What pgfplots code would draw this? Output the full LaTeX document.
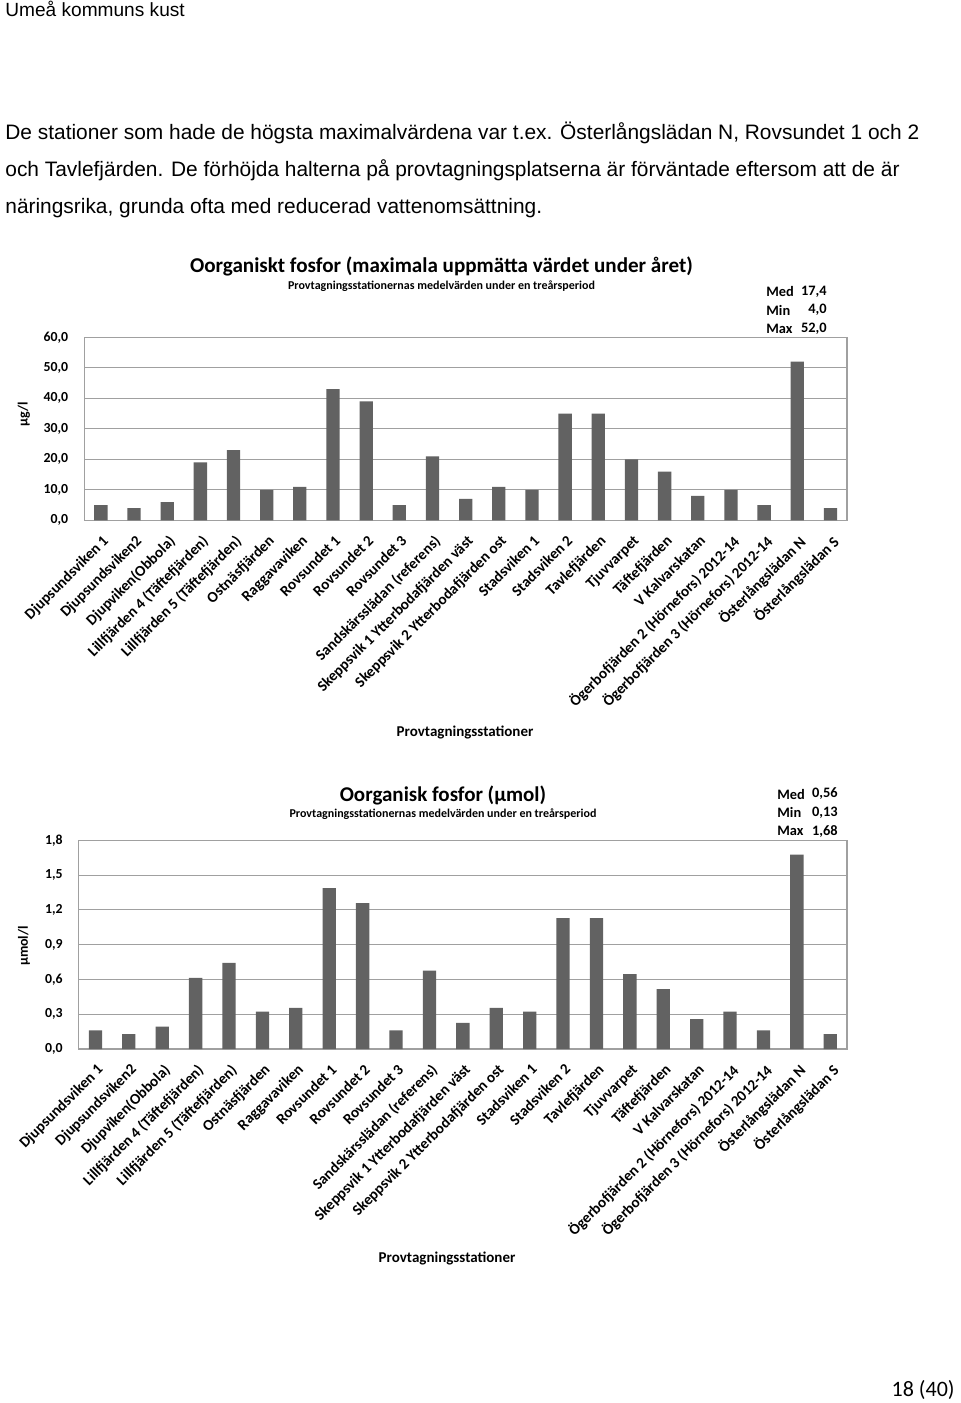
\documentclass[border=0pt]{standalone}
\usepackage{fontspec}
\setmainfont{Carlito}
\newfontfamily\narrowfont{Liberation Sans}
\usepackage{pgfplots}
\pgfplotsset{compat=1.18}
\definecolor{barc}{HTML}{626262}
\definecolor{gridc}{HTML}{A0A0A0}
\pgfplotsset{stations/.style={
  scale only axis, anchor=south west,
  xmin=-0.5, xmax=22.5, ymin=0,
  xtick={0,...,22},
  xticklabels={{Djupsundsviken 1},{Djupsundsviken2},{Djupviken(Obbola)},{Lillfjärden 4 (Täftefjärden)},{Lillfjärden 5 (Täftefjärden)},{Ostnäsfjärden},{Raggavaviken},{Rovsundet 1},{Rovsundet 2},{Rovsundet 3},{Sandskärsslädan (referens)},{Skeppsvik 1 Ytterbodafjärden väst},{Skeppsvik 2 Ytterbodafjärden ost},{Stadsviken 1},{Stadsviken 2},{Tavlefjärden},{Tjuvvarpet},{Täftefjärden},{V Kalvarskatan},{Ögerbofjärden 2 (Hörnefors) 2012-14},{Ögerbofjärden 3 (Hörnefors) 2012-14},{Österlångslädan N},{Österlångslädan S}},
  ybar, bar width=6.65pt,
  axis line style={draw=gridc, line width=0.6pt},
  ymajorgrids, grid style={draw=gridc, line width=0.6pt},
  major tick length=0pt, tick style={draw=none},
  yticklabel style={font=\bfseries\fontsize{6.9}{8}\selectfont, xshift=-4.5pt, /pgf/number format/assume math mode=true,
    /pgf/number format/fixed, /pgf/number format/fixed zerofill,
    /pgf/number format/precision=1, /pgf/number format/use comma},
  xticklabel style={font=\bfseries\fontsize{7.6}{8}\selectfont, rotate=45, anchor=north east, inner sep=0pt, yshift=-5pt, xshift=-4.5pt},
}}
\begin{document}
\begin{tikzpicture}
\fill[white] (0,0) rectangle (480pt,-701.5pt);
\begin{scope}[x=0.5pt,y=-0.5pt]
  \node[anchor=base west, inner sep=0] at (5,16.7) {\narrowfont\fontsize{9.55}{11}\selectfont Umeå kommuns kust};
  \node[anchor=base west, inner sep=0] at (5,139.5) {\narrowfont\fontsize{10.45}{12}\selectfont De stationer som hade de högsta maximalvärdena var t.ex. Österlångslädan N, Rovsundet 1 och 2};
  \node[anchor=base west, inner sep=0] at (5,176) {\narrowfont\fontsize{10.45}{12}\selectfont och Tavlefjärden. De förhöjda halterna på provtagningsplatserna är förväntade eftersom att de är};
  \node[anchor=base west, inner sep=0] at (5,213) {\narrowfont\fontsize{10.45}{12}\selectfont näringsrika, grunda ofta med reducerad vattenomsättning.};
  % chart 1 texts
  \node[inner sep=0] at (441.5,266) {\bfseries\fontsize{10.55}{12}\selectfont Oorganiskt fosfor (maximala uppmätta värdet under året)};
  \node[inner sep=0] at (441.5,286) {\bfseries\fontsize{6}{7}\selectfont Provtagningsstationernas medelvärden under en treårsperiod};
  \node[anchor=west, inner sep=0] at (766,291.7) {\bfseries\fontsize{7.2}{8}\selectfont Med};
  \node[anchor=east, inner sep=0] at (827,291.7) {\bfseries\fontsize{7.2}{8}\selectfont 17,4};
  \node[anchor=west, inner sep=0] at (766,310) {\bfseries\fontsize{7.2}{8}\selectfont Min};
  \node[anchor=east, inner sep=0] at (827,310) {\bfseries\fontsize{7.2}{8}\selectfont 4,0};
  \node[anchor=west, inner sep=0] at (766,328.7) {\bfseries\fontsize{7.2}{8}\selectfont Max};
  \node[anchor=east, inner sep=0] at (827,328.7) {\bfseries\fontsize{7.2}{8}\selectfont 52,0};
  \node[rotate=90, inner sep=0] at (24,414) {\bfseries\fontsize{7}{8}\selectfont µg/l};
  \node[inner sep=0] at (465,732.7) {\bfseries\fontsize{7.5}{9}\selectfont Provtagningsstationer};
  % chart 2 texts
  \node[inner sep=0] at (443,795) {\bfseries\fontsize{10.5}{12}\selectfont Oorganisk fosfor (µmol)};
  \node[inner sep=0] at (443,814.5) {\bfseries\fontsize{6}{7}\selectfont Provtagningsstationernas medelvärden under en treårsperiod};
  \node[anchor=west, inner sep=0] at (777,794) {\bfseries\fontsize{7.2}{8}\selectfont Med};
  \node[anchor=east, inner sep=0] at (838,794) {\bfseries\fontsize{7.2}{8}\selectfont 0,56};
  \node[anchor=west, inner sep=0] at (777,812.7) {\bfseries\fontsize{7.2}{8}\selectfont Min};
  \node[anchor=east, inner sep=0] at (838,812.7) {\bfseries\fontsize{7.2}{8}\selectfont 0,13};
  \node[anchor=west, inner sep=0] at (777,831) {\bfseries\fontsize{7.2}{8}\selectfont Max};
  \node[anchor=east, inner sep=0] at (838,831) {\bfseries\fontsize{7.2}{8}\selectfont 1,68};
  \node[rotate=90, inner sep=0] at (24,946) {\bfseries\fontsize{7}{8}\selectfont µmol/l};
  \node[inner sep=0] at (447,1258) {\bfseries\fontsize{7.5}{9}\selectfont Provtagningsstationer};
  \node[anchor=east, inner sep=0] at (955,1390) {\fontsize{11}{13}\selectfont 18 (40)};
\end{scope}

\begin{axis}[stations, at={(42.15pt,-260.15pt)}, width=381.35pt, height=91.5pt,
  ymax=60, ytick={0,10,20,30,40,50,60}]
\addplot[fill=barc, draw=none] coordinates {
(0,5) (1,4) (2,6) (3,19) (4,23) (5,10) (6,11) (7,43) (8,39) (9,5) (10,21) (11,7)
(12,11) (13,10) (14,35) (15,35) (16,20) (17,16) (18,8) (19,10) (20,5) (21,52) (22,4)};
\end{axis}

\begin{axis}[stations, at={(39.35pt,-524.5pt)}, width=384.15pt, height=104.35pt,
  ymax=1.8, ytick={0,0.3,0.6,0.9,1.2,1.5,1.8}]
\addplot[fill=barc, draw=none] coordinates {
(0,0.161) (1,0.129) (2,0.194) (3,0.613) (4,0.742) (5,0.323) (6,0.355) (7,1.387)
(8,1.258) (9,0.161) (10,0.677) (11,0.226) (12,0.355) (13,0.323) (14,1.129)
(15,1.129) (16,0.645) (17,0.516) (18,0.258) (19,0.323) (20,0.161) (21,1.677) (22,0.129)};
\end{axis}

\pgfresetboundingbox
\path[use as bounding box] (0,0) rectangle (480pt,-701.5pt);
\end{tikzpicture}
\end{document}
